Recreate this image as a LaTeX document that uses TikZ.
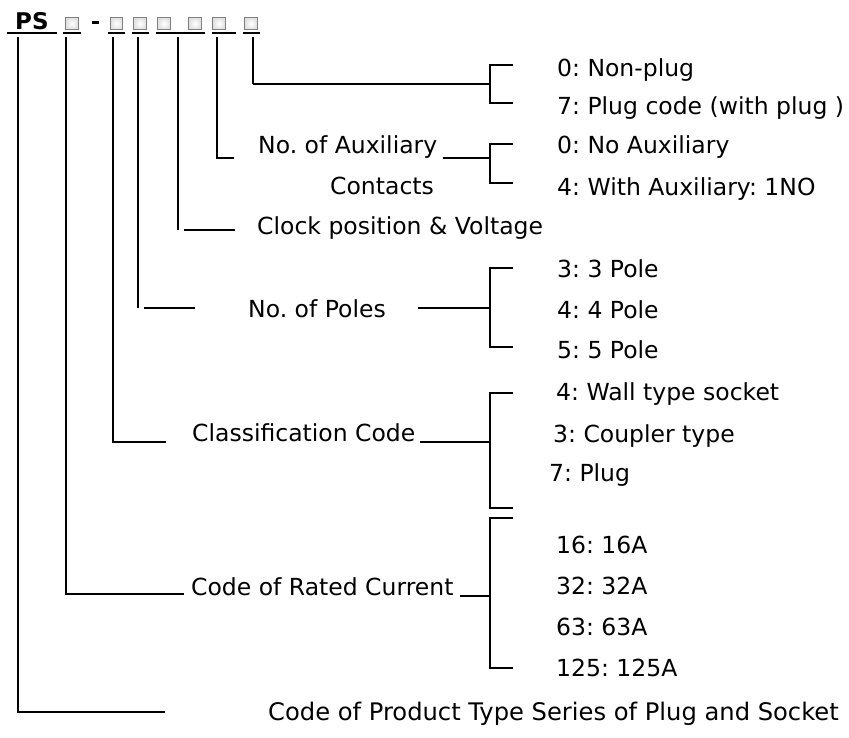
\documentclass[tikz,border=0pt]{standalone}
\usepackage{fontspec}
\setmainfont{DejaVu Sans}
\frenchspacing
\begin{document}
\begin{tikzpicture}[x=1pt,y=-1pt,
  lbl/.style={anchor=base west,inner sep=0pt,font=\fontsize{23.5}{28}\selectfont},
  ln/.style={line width=1.8pt},
  ul/.style={line width=2.8pt},
  cbox/.style={draw=black!50,line width=1.2pt,inner color=white,outer color=black!12,minimum size=12.5pt,inner sep=0pt}]
\useasboundingbox (0,0) rectangle (849,737);
% header
\node[anchor=base west,inner sep=0pt,font=\fontsize{23}{27}\selectfont\bfseries] (ps) at (15,29) {PS};
\node[cbox] (b1) at (72,23.5) {};
\draw[line width=3pt] (91.5,22.5) coordinate (dsa) -- (98.5,22.5) coordinate (dsb);
\node[cbox] (b2) at (116.5,23.5) {};
\node[cbox] (b3) at (140,23.5) {};
\node[cbox] (b4) at (164,23.5) {};
\node[cbox] (b5) at (195,23.5) {};
\node[cbox] (b6) at (219,23.5) {};
\node[cbox] (b7) at (251,23.5) {};
% underlines
\foreach \n/\a/\b in {u0/7/57,u1/63/81,u2/108/125,u3/132/149,u4/156/205,u5/212/236,u6/243/260}{
  \coordinate (\n a) at (\a,33); \coordinate (\n b) at (\b,33);
  \draw[ul] (\n a) -- (\n b);}
% labels
\node[lbl] (t1a) at (557,76) {0: Non-plug};
\node[lbl] (t1b) at (557,114) {7: Plug code (with plug )};
\node[lbl] (aux) at (258,153) {No. of Auxiliary};
\node[lbl] (aux2) at (330,194) {Contacts};
\node[lbl] (t2a) at (557,153) {0: No Auxiliary};
\node[lbl] (t2b) at (557,195) {4: With Auxiliary: 1NO};
\node[lbl] (clk) at (257,234) {Clock position \& Voltage};
\node[lbl] (t3a) at (557,277) {3: 3 Pole};
\node[lbl] (pol) at (248,317) {No. of Poles};
\node[lbl] (t3b) at (557,318) {4: 4 Pole};
\node[lbl] (t3c) at (557,358) {5: 5 Pole};
\node[lbl] (t4a) at (556,400) {4: Wall type socket};
\node[lbl] (cls) at (192,441) {Classification Code};
\node[lbl] (t4b) at (553,442) {3: Coupler type};
\node[lbl] (t4c) at (549,481) {7: Plug};
\node[lbl] (t5a) at (556,553) {16: 16A};
\node[lbl] (rat) at (191,595) {Code of Rated Current};
\node[lbl] (t5b) at (556,594) {32: 32A};
\node[lbl] (t5c) at (556,635) {63: 63A};
\node[lbl] (t5d) at (556,676) {125: 125A};
\node[lbl,font=\fontsize{24.2}{28}\selectfont] (prd) at (268,720) {Code of Product Type Series of Plug and Socket};
% tree coordinates
\coordinate (v1t) at (18,37);  \coordinate (v1b) at (18,712);  \coordinate (h1e) at (165,712);
\coordinate (v2t) at (66,37);  \coordinate (v2b) at (66,594);  \coordinate (h2e) at (184,594);
\coordinate (v3t) at (113,37); \coordinate (v3b) at (113,442); \coordinate (h3e) at (166,442);
\coordinate (v4t) at (138,37); \coordinate (v4b) at (138,308); \coordinate (h4s) at (144,308); \coordinate (h4e) at (195,308);
\coordinate (v5t) at (178,37); \coordinate (v5b) at (178,230); \coordinate (h5s) at (184,230); \coordinate (h5e) at (235,230);
\coordinate (v6t) at (217,37); \coordinate (v6b) at (217,158); \coordinate (h6e) at (234,158);
\coordinate (v7t) at (253,37); \coordinate (v7b) at (253,84);
% brackets
\foreach \n/\t/\m/\b/\s in {k1/65/84/103/253,k2/144/158/183/443,k3/268/308/347/418,k4/393/442/508/420,k5/518/596/668/460}{
  \coordinate (\n t) at (490,\t); \coordinate (\n b) at (490,\b); \coordinate (\n m) at (490,\m);
  \coordinate (\n s) at (\s,\m);
  \coordinate (\n tt) at (513,\t); \coordinate (\n bt) at (513,\b);
  \draw[ln] (\n tt) -- (\n t) -- (\n b) -- (\n bt);
  \draw[ln] (\n s) -- (\n m);}
\draw[ln] (v1t) -- (v1b) -- (h1e);
\draw[ln] (v2t) -- (v2b) -- (h2e);
\draw[ln] (v3t) -- (v3b) -- (h3e);
\draw[ln] (v4t) -- (v4b); \draw[ln] (h4s) -- (h4e);
\draw[ln] (v5t) -- (v5b); \draw[ln] (h5s) -- (h5e);
\draw[ln] (v6t) -- (v6b) -- (h6e);
\draw[ln] (v7t) -- (k1s);
\end{tikzpicture}
\end{document}
